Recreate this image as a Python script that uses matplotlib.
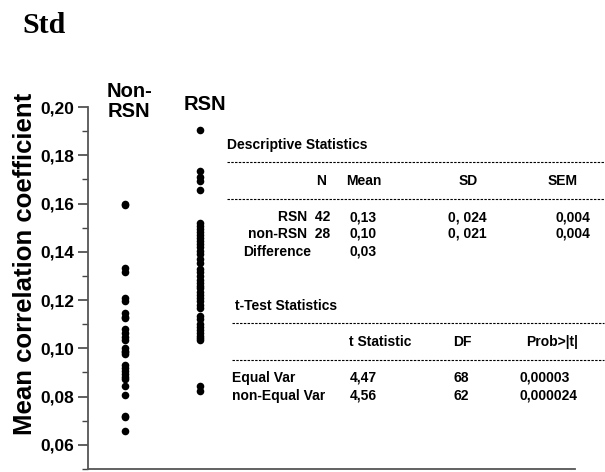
import numpy as np
from matplotlib import pyplot as plt

# data
groups = ['Non-\nRSN', 'RSN']
non_rsn = [0.1598, 0.1592, 0.1332, 0.1318, 0.1207, 0.1195, 0.1145, 0.1130,
           0.1125, 0.1080, 0.1065, 0.1048, 0.1035, 0.1000, 0.0990, 0.0985,
           0.0975, 0.0932, 0.0918, 0.0905, 0.0895, 0.0882, 0.0872, 0.0845,
           0.0808, 0.0718, 0.0715, 0.0658]
rsn = [0.1905, 0.1735, 0.1712, 0.1695, 0.1655, 0.1520, 0.1508, 0.1495,
       0.1482, 0.1470, 0.1458, 0.1445, 0.1432, 0.1420, 0.1405, 0.1392,
       0.1370, 0.1355, 0.1328, 0.1315, 0.1300, 0.1285, 0.1272, 0.1260,
       0.1248, 0.1235, 0.1222, 0.1210, 0.1195, 0.1180, 0.1168, 0.1135,
       0.1120, 0.1100, 0.1088, 0.1075, 0.1062, 0.1050, 0.1042, 0.1035,
       0.0845, 0.0822]
yticks = [0.06, 0.08, 0.10, 0.12, 0.14, 0.16, 0.18, 0.20]

desc_header = ['N', 'Mean', 'SD', 'SEM']
desc_rows = [['RSN  42', '0,13', '0, 024', '0,004'],
             ['non-RSN  28', '0,10', '0, 021', '0,004'],
             ['Difference', '0,03', '', '']]
t_header = ['t Statistic', 'DF', 'Prob>|t|']
t_rows = [['Equal Var', '4,47', '68', '0,00003'],
          ['non-Equal Var', '4,56', '62', '0,000024']]

W, H = 605, 472
plt.rcParams['font.family'] = ['Liberation Sans', 'DejaVu Sans']
fig = plt.figure(figsize=(W / 100, H / 100), dpi=100)


def px(x, y):
    return x / W, 1 - y / H


ax = fig.add_axes([88 / W, 1 - 469 / H, (575 - 88) / W, (469 - 107) / H])
for i, vals in enumerate([non_rsn, rsn]):
    ax.scatter(np.full(len(vals), i + 1), vals, s=30, color='black',
               linewidths=0, zorder=3, clip_on=False)
ax.set_xlim(0.507, 7.0)
ax.set_ylim(0.05, 0.20)
ax.set_yticks(yticks)
ax.set_yticklabels([f'{v:.2f}'.replace('.', ',') for v in yticks],
                   fontsize=12.5, fontweight='bold')
ax.set_yticks(np.arange(0.05, 0.2001, 0.01), minor=True)
ax.tick_params(axis='y', which='major', length=7, width=1.2, color='#444444', pad=3)
ax.tick_params(axis='y', which='minor', length=4, width=1.0, color='#444444')
ax.set_xticks([])
for s in ['top', 'right']:
    ax.spines[s].set_visible(False)
for s in ['left', 'bottom']:
    ax.spines[s].set_color('#555555')
    ax.spines[s].set_linewidth(1.3)

# group labels above the columns
label_x = [129, 205]
label_top = [82, 95]
for g, x, y in zip(groups, label_x, label_top):
    fig.text(*px(x, y), g, ha='center', va='top', fontsize=14.5,
             fontweight='bold', linespacing=1.05)

fig.text(*px(25, 264), 'Mean correlation coefficient', rotation=90,
         ha='center', va='center', fontsize=18.5, fontweight='bold')
fig.text(*px(22, 33), 'Std', family='Liberation Serif', fontsize=21.5,
         fontweight='bold', ha='left', va='baseline')

fs = 10


def dashed(y, x0, x1=604):
    fig.add_artist(plt.Line2D([x0 / W, x1 / W], [1 - y / H, 1 - y / H],
                              color='black', lw=0.8, dashes=(2.2, 1.2)))


# descriptive statistics block
fig.text(*px(227, 145), 'Descriptive Statistics', fontsize=fs, fontweight='bold',
         ha='left', va='center')
dashed(162, 227)
dashed(199, 227)
hx = [(326, 'right'), (364, 'center'), (468, 'center'), (563, 'center')]
for (x, ha), h in zip(hx, desc_header):
    fig.text(*px(x, 181), h, fontsize=fs, fontweight='bold', ha=ha, va='center')
row_y = [217, 234, 252]
for y, row in zip(row_y, desc_rows):
    if row[0] == 'Difference':
        fig.text(*px(243, y), row[0], fontsize=fs, fontweight='bold',
                 ha='left', va='center')
    else:
        fig.text(*px(330, y), row[0], fontsize=fs, fontweight='bold',
                 ha='right', va='center')
    fig.text(*px(349, y), row[1], fontsize=fs, fontweight='bold', ha='left', va='center')
    fig.text(*px(448, y), row[2], fontsize=fs, fontweight='bold', ha='left', va='center')
    fig.text(*px(590, y), row[3], fontsize=fs, fontweight='bold', ha='right', va='center')

# t-test block
fig.text(*px(235, 306), 't-Test Statistics', fontsize=fs, fontweight='bold',
         ha='left', va='center')
dashed(323, 232)
dashed(360, 232)
for x, h in zip([380, 462, 552], t_header):
    fig.text(*px(x, 342), h, fontsize=fs, fontweight='bold', ha='center', va='center')
for y, row in zip([378, 396], t_rows):
    for x, v in zip([232, 350, 453, 520], row):
        fig.text(*px(x, y), v, fontsize=fs, fontweight='bold', ha='left', va='center')

fig.savefig('out.png', dpi=100)
